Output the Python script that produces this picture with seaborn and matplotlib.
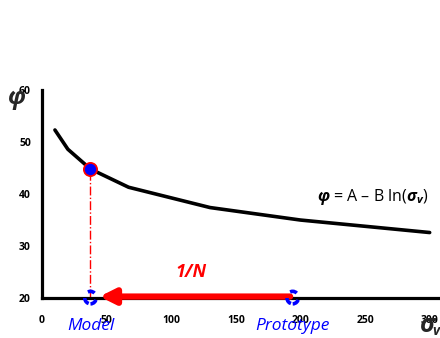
import matplotlib
matplotlib.use("Agg")
import matplotlib.pyplot as plt
from matplotlib.patches import Ellipse
import seaborn as sns
import pandas as pd

# friction angle vs. vertical stress
sigma_v = [10, 20, 37.5, 67, 130, 200, 300]
phi = [52.3, 48.6, 44.8, 41.3, 37.4, 35.0, 32.6]

model_sigma = 37.5
model_phi = 44.8
prototype_sigma = 194

x_ticks = [0, 50, 100, 150, 200, 250, 300]
y_ticks = [20, 30, 40, 50, 60]

sns.set_style("white")
plt.rcParams["font.family"] = ["Open Sans", "DejaVu Sans"]
plt.rcParams["mathtext.fontset"] = "custom"
plt.rcParams["mathtext.rm"] = "Open Sans"
plt.rcParams["mathtext.it"] = "Open Sans:italic"
plt.rcParams["mathtext.bf"] = "Open Sans:bold:italic"

fig = plt.figure(figsize=(4.4, 3.38), dpi=100)
ax = fig.add_axes([0.0955, 0.118, 0.9045, 0.616])

df = pd.DataFrame({"sigma_v": sigma_v, "phi": phi})
sns.lineplot(data=df, x="sigma_v", y="phi", color="black", linewidth=2.6,
             ax=ax, zorder=3)

ax.set_xlim(0, 308)
ax.set_ylim(20, 60)
ax.set_xticks(x_ticks)
ax.set_yticks(y_ticks)
ax.set_xlabel("")
ax.set_ylabel("")
sns.despine(ax=ax)
for s in ("left", "bottom"):
    ax.spines[s].set_linewidth(2.3)
    ax.spines[s].set_color("black")
ax.tick_params(axis="both", direction="inout", length=4, width=1.2,
               labelsize=7.5, colors="black")
ax.tick_params(axis="x", pad=10)
ax.tick_params(axis="y", pad=6)
for lab in ax.get_xticklabels() + ax.get_yticklabels():
    lab.set_fontweight("bold")

# model point and its projection
ax.plot([model_sigma, model_sigma], [20, model_phi], color="red",
        linestyle="-.", linewidth=1.0, zorder=2)
ax.plot([model_sigma], [model_phi], marker="o", markersize=9.5,
        markerfacecolor="blue", markeredgecolor="red", markeredgewidth=1.3,
        zorder=5)

# scaling arrow from prototype to model
ax.annotate("", xy=(model_sigma + 7, 20.3), xytext=(prototype_sigma - 2, 20.3),
            arrowprops=dict(arrowstyle="-|>,head_length=0.9,head_width=0.45",
                            color="red", linewidth=4.5, shrinkA=0, shrinkB=0),
            annotation_clip=False, zorder=6)
ax.text(115, 25.0, "1/N", color="red", fontsize=13, fontweight="bold",
        fontstyle="italic", ha="center", va="center")

# dashed markers on the stress axis
for xc in (model_sigma, prototype_sigma):
    ax.add_patch(Ellipse((xc, 20.1), width=9, height=2.4, fill=False,
                         edgecolor="blue", linestyle=(0, (2, 2)),
                         linewidth=2.6, clip_on=False, zorder=7))

ax.text(model_sigma, 14.6, "Model", color="blue", fontsize=12.5,
        fontstyle="italic", ha="center", va="center")
ax.text(prototype_sigma, 14.6, "Prototype", color="blue", fontsize=12.5,
        fontstyle="italic", ha="center", va="center")

# equation
ax.text(256, 39.4, r"$\mathbf{\varphi}$ = A – B ln($\mathbf{\sigma_v}$)",
        fontsize=11.5, ha="center", va="center", color="black")

# axis symbols
fig.text(17 / 440, 1 - 98 / 338, "φ", fontsize=17, fontweight="bold",
         fontstyle="italic", ha="center", va="center")
fig.text(428 / 440, 1 - 326 / 338, "σ", fontsize=18, fontweight="bold",
         fontstyle="italic", ha="center", va="center")
fig.text(436 / 440, 1 - 331 / 338, "v", fontsize=10, fontweight="bold",
         fontstyle="italic", ha="center", va="center")

fig.savefig("out.png", dpi=100)
